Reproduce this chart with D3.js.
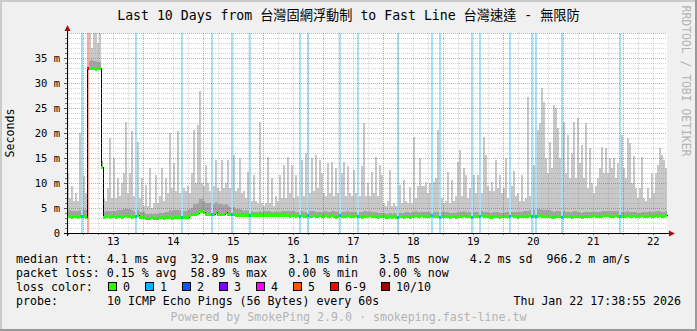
<!DOCTYPE html>
<html>
<head>
<meta charset="utf-8">
<script src="https://cdn.jsdelivr.net/npm/d3@7"></script>
<style>
  body { margin: 0; background: #f0f0f0; }
  svg text { font-family: "DejaVu Sans Mono", "Noto Sans CJK TC", monospace; white-space: pre; }
</style>
</head>
<body>
<svg width="697" height="331"></svg>
<script>
// ---- data ----
const title = "Last 10 Days from 台灣固網浮動制 to Fast Line 台灣速達 - 無限防";
const startTime = Date.UTC(2026, 0, 12, 17, 38, 55);
const endTime = Date.UTC(2026, 0, 22, 17, 38, 55);
const bucketMinutes = 48; // one bucket = 2 px

// max ping of each bucket (ms)
const smokeMax = [
  12, 7, 9.5, 6.5, 8, 6.5, 20, 7, 11.5, 8,
  42, 42, 37, 42, 42, 38, 42, 8, 7, 6.5,
  9, 19, 7, 15, 7, 11, 7.5, 10, 12, 22.3,
  8, 12, 20.5, 7.5, 14, 18.3, 7, 11, 5.5, 9.7,
  5.5, 13, 5, 6, 11.7, 6, 7.5, 13, 6.5, 11,
  8, 20, 9, 14, 8.5, 20.5, 8, 10, 9, 8.5,
  9.5, 8, 12, 20.7, 10, 21.7, 28.5, 10, 9.5, 13.7,
  10, 8.5, 12, 9.5, 14.7, 9, 8.5, 14.7, 9, 10,
  14.7, 9, 9.5, 15.7, 8.5, 9, 15, 8, 8.5, 7,
  12.3, 7, 6.5, 11.7, 6.5, 6, 22.3, 6, 5.5, 6,
  15.3, 6, 11, 5.5, 7.5, 6.5, 11.7, 7, 13.7, 7,
  15.3, 8, 13.7, 7, 11.7, 7.5, 7, 14.7, 7.5, 16,
  15.3, 8, 15, 8.5, 15.7, 9, 14.7, 12, 8, 7.5,
  14, 8, 14.3, 7.5, 13, 8, 8.5, 12, 14.3, 7.5,
  13.5, 8, 7.5, 12.7, 8, 14, 7.5, 13.5, 22.1, 7.5,
  10, 7.5, 12.3, 8, 15.3, 7.5, 13.7, 11.7, 6, 5.5,
  6.5, 12.7, 5.5, 6, 5.5, 5.5, 9.7, 6, 10.7, 6.5,
  6, 9.3, 6, 19.3, 7, 9.5, 15, 9.5, 9.5, 10.3,
  8, 10, 7, 10.3, 11, 20.7, 7.5, 7, 6, 6.5,
  12.3, 6, 10.7, 6.5, 7.5, 14.3, 16.7, 7.5, 13, 11.7,
  7, 9, 7, 11.7, 8, 11.7, 7, 8, 19.3, 15.7,
  9.5, 8.5, 10.3, 8.5, 14.7, 9, 11.7, 8, 9, 15,
  7, 10.3, 9.5, 12.5, 7.5, 8, 6.5, 11.7, 6.5, 7,
  27.3, 7.5, 9, 13.7, 10, 20.7, 22, 29, 26.3, 15,
  12, 18.3, 13, 25.7, 25, 21, 15, 11, 22.3, 12,
  19.7, 11, 16, 22.3, 11, 23, 14, 17.7, 11, 22,
  9, 17, 10, 8, 9.5, 11, 13, 17.3, 12, 17,
  12, 15, 13, 15, 11, 14, 12, 19.6, 13, 11,
  19, 18, 10, 15.5, 9, 7, 9, 15.3, 7, 6.5,
  9, 7, 12, 8, 12, 13.6, 17, 15.6, 14.7, 13
];

// height of the darker inner smoke above the median, per 3 buckets (ms)
const smokeBand = [
  1.2, 1.1, 1.3, 1.4, 1.5, 1.2, 1.0, 1.1, 1.2, 1.4,
  1.4, 1.1, 1.0, 0.7, 0.7, 0.8, 1.0, 1.4, 1.4, 1.2,
  1.3, 2.0, 2.4, 2.2, 2.0, 2.0, 1.8, 1.5, 1.2, 1.0,
  0.8, 0.7, 0.8, 0.9, 0.8, 0.8, 0.9, 1.0, 0.8, 0.9,
  1.0, 0.9, 0.8, 0.9, 1.0, 0.8, 0.9, 0.8, 0.8, 1.0,
  0.9, 0.8, 0.7, 0.6, 0.6, 0.7, 0.8, 0.8, 0.9, 0.8,
  0.8, 0.8, 0.9, 0.8, 0.7, 0.8, 0.9, 0.8, 0.8, 0.9,
  0.8, 0.8, 0.7, 0.8, 0.8, 0.9, 1.0, 1.2, 1.4, 1.2,
  1.2, 1.0, 1.0, 0.9, 1.0, 0.8, 0.8, 0.8, 0.9, 1.0,
  1.0, 1.0, 0.8, 0.9, 0.8, 0.7, 0.8, 0.9, 1.0, 0.9
];

// median rtt of each bucket (ms)
const medianRtt = [
  3.4, 3.4, 3.3, 3.4, 3.4, 3.3, 3.4, 3.4, 3.4, 3.3,
  33.0, 33.0, 33.1, 33.0, 32.9, 33.0, 33.0, 13.3, 3.3, 3.4,
  3.4, 3.3, 3.4, 3.4, 3.3, 3.4, 3.4, 3.3, 3.4, 3.5,
  3.4, 3.4, 3.3, 3.4, 3.4, 3.5, 3.3, 3.3, 3.2, 3.1,
  3.1, 3.1, 3.2, 3.1, 3.1, 3.1, 3.2, 3.2, 3.1, 3.2,
  3.2, 3.2, 3.1, 3.2, 3.2, 3.2, 3.2, 3.3, 3.3, 3.3,
  3.3, 3.6, 3.8, 3.8, 3.9, 4.0, 4.4, 4.5, 4.1, 3.9,
  3.8, 3.9, 3.8, 3.9, 4.2, 3.9, 3.8, 3.9, 3.8, 4.1,
  3.9, 3.8, 3.9, 3.8, 3.7, 3.6, 3.6, 3.6, 3.5, 3.6,
  3.6, 3.5, 3.6, 3.6, 3.5, 3.6, 3.6, 3.5, 3.6, 3.6,
  3.5, 3.6, 3.5, 3.5, 3.6, 3.5, 3.5, 3.6, 3.5, 3.5,
  3.5, 3.4, 3.5, 3.5, 3.4, 3.5, 3.4, 3.5, 3.4, 3.4,
  3.5, 3.4, 3.4, 3.5, 3.4, 3.4, 3.5, 3.4, 3.4, 3.5,
  3.4, 3.4, 3.5, 3.4, 3.3, 3.4, 3.5, 3.4, 3.4, 3.4,
  3.5, 3.4, 3.4, 3.4, 3.5, 3.4, 3.4, 3.3, 3.4, 3.4,
  3.4, 3.5, 3.4, 3.4, 3.4, 3.3, 3.4, 3.4, 3.4, 3.3,
  3.3, 3.4, 3.3, 3.4, 3.3, 3.3, 3.4, 3.4, 3.3, 3.4,
  3.4, 3.3, 3.4, 3.4, 3.5, 3.4, 3.4, 3.5, 3.4, 3.4,
  3.4, 3.4, 3.5, 3.4, 3.4, 3.4, 3.3, 3.4, 3.4, 3.4,
  3.4, 3.3, 3.4, 3.4, 3.3, 3.4, 3.4, 3.4, 3.5, 3.4,
  3.4, 3.4, 3.3, 3.4, 3.4, 3.4, 3.4, 3.5, 3.4, 3.4,
  3.4, 3.3, 3.3, 3.4, 3.4, 3.4, 3.3, 3.4, 3.4, 3.4,
  3.4, 3.4, 3.5, 3.4, 3.4, 3.3, 3.4, 3.4, 3.4, 3.4,
  3.4, 3.5, 3.4, 3.4, 3.4, 3.4, 3.5, 3.4, 3.4, 3.4,
  3.4, 3.4, 3.3, 3.3, 3.4, 3.4, 3.4, 3.3, 3.4, 3.4,
  3.4, 3.4, 3.3, 3.4, 3.4, 3.4, 3.4, 3.3, 3.4, 3.4,
  3.4, 3.4, 3.4, 3.5, 3.4, 3.4, 3.4, 3.4, 3.5, 3.5,
  3.5, 3.4, 3.4, 3.4, 3.5, 3.4, 3.4, 3.4, 3.4, 3.4,
  3.5, 3.4, 3.4, 3.5, 3.4, 3.4, 3.4, 3.5, 3.4, 3.4,
  3.4, 3.5, 3.4, 3.4, 3.5, 3.4, 3.5, 3.4, 3.4, 3.5
];

// buckets with packet loss: [bucket, pings lost of 10]
const lossBuckets = [
  [7, 1], [10, 6], [34, 1], [57, 1], [72, 1], [82, 1], [91, 1], [116, 1],
  [120, 1], [136, 1], [145, 1], [165, 1], [182, 1], [186, 1], [202, 1],
  [206, 1], [221, 1], [232, 1], [234, 1], [247, 1], [276, 1]
];

const lossLabels = ["0", "1", "2", "3", "4", "5", "6-9", "10/10"];
const lossColors = ["#26ff00", "#00b8ff", "#0059ff", "#7e00ff", "#ff00ff", "#ff5500", "#ff0000", "#a10000"];
const lossBgColors = ["none", "#a6e1f8", "#a6c4ff", "#cfa6ff", "#ffa6ff", "#ffc4a6", "#ffa4a4", "#d9a6a6"];

const yTicks = [0, 5, 10, 15, 20, 25, 30, 35];

const legendRows = [
  "median rtt:  4.1 ms avg  32.9 ms max   3.1 ms min   3.5 ms now   4.2 ms sd  966.2 m am/s",
  "packet loss: 0.15 % avg  58.89 % max   0.00 % min   0.00 % now"
];
const probeText = "10 ICMP Echo Pings (56 Bytes) every 60s";
const dateText = "Thu Jan 22 17:38:55 2026";
const footer = "Powered by SmokePing 2.9.0 · smokeping.fast-line.tw";
const watermark = "RRDTOOL / TOBI OETIKER";

// ---- drawing ----
const svg = d3.select("svg");
const width = +svg.attr("width");
const height = +svg.attr("height");

const plot = { left: 67, right: 667, top: 33, bottom: 233 };

const x = d3.scaleUtc()
  .domain([new Date(startTime), new Date(endTime)])
  .range([plot.left, plot.right]);
const y = d3.scaleLinear()
  .domain([0, 40])
  .range([plot.bottom, plot.top])
  .clamp(true);

const bucketStart = i => new Date(startTime + i * bucketMinutes * 60000);
const bx = i => Math.round(x(bucketStart(i)));
const bw = i => bx(i + 1) - bx(i);
const lossClass = n => n >= 10 ? 7 : n >= 6 ? 6 : n;

// background + 3d border
svg.append("rect").attr("width", width).attr("height", height).attr("fill", "#f0f0f0");
svg.append("path").attr("d", `M1,${height} V1 H${width}`).attr("fill", "none")
  .attr("stroke", "#cbcbcb").attr("stroke-width", 2);
svg.append("path").attr("d", `M0,${height - 1} H${width - 1} V0`).attr("fill", "none")
  .attr("stroke", "#999999").attr("stroke-width", 2);

// canvas
svg.append("rect")
  .attr("x", plot.left).attr("y", plot.top)
  .attr("width", plot.right - plot.left).attr("height", plot.bottom - plot.top)
  .attr("fill", "#ffffff");

const g = svg.append("g").attr("shape-rendering", "crispEdges");

// light smoke: median up to the max ping
g.selectAll("rect.smoke")
  .data(smokeMax)
  .join("rect")
  .attr("class", "smoke")
  .attr("x", (d, i) => bx(i))
  .attr("width", (d, i) => bw(i))
  .attr("y", d => y(d))
  .attr("height", (d, i) => Math.max(0, y(medianRtt[i]) - y(d)))
  .attr("fill", "#c8c8c8");

// darker inner smoke
g.selectAll("rect.band")
  .data(medianRtt)
  .join("rect")
  .attr("class", "band")
  .attr("x", (d, i) => bx(i))
  .attr("width", (d, i) => bw(i))
  .attr("y", (d, i) => y(d + smokeBand[Math.floor(i / 3)]))
  .attr("height", (d, i) => y(d) - y(d + smokeBand[Math.floor(i / 3)]))
  .attr("fill", "#a4a4a4");

// loss background bars
g.selectAll("rect.loss")
  .data(lossBuckets)
  .join("rect")
  .attr("class", "loss")
  .attr("x", d => bx(d[0]))
  .attr("width", d => bw(d[0]))
  .attr("y", plot.top)
  .attr("height", plot.bottom - plot.top)
  .attr("fill", d => lossBgColors[lossClass(d[1])]);

// median: thin black step line, then loss-coloured segments
const stepLine = d3.line()
  .x((d, i) => bx(i) + 0.5)
  .y(d => Math.round(y(d)) + 0.5)
  .curve(d3.curveStepAfter);
g.append("path")
  .datum(medianRtt.concat([medianRtt[medianRtt.length - 1]]))
  .attr("d", stepLine)
  .attr("fill", "none")
  .attr("stroke", "#000")
  .attr("stroke-width", 1);

const lossMap = new Map(lossBuckets);
g.selectAll("rect.median")
  .data(medianRtt)
  .join("rect")
  .attr("class", "median")
  .attr("x", (d, i) => bx(i))
  .attr("width", (d, i) => bw(i))
  .attr("y", d => Math.round(y(d)) - 1)
  .attr("height", 3)
  .attr("fill", (d, i) => lossColors[lossClass(lossMap.get(i) || 0)]);

// grid (translucent, drawn over the graph like rrdtool does)
const grid = svg.append("g").attr("shape-rendering", "crispEdges")
  .attr("stroke-dasharray", "1,1").attr("stroke-width", 1);
const days = d3.utcDay.range(new Date(startTime), new Date(endTime));
const sixHours = d3.utcHour.every(6).range(new Date(startTime), new Date(endTime))
  .filter(d => d.getUTCHours() !== 0);
const yMinor = d3.range(1, 40).filter(v => v % 5 !== 0);
const yMajor = d3.range(5, 41, 5);
const minorColor = "rgba(135,135,135,0.37)";
const majorColor = "rgba(190,30,30,0.42)";

grid.selectAll("line.vminor").data(sixHours).join("line")
  .attr("x1", d => Math.round(x(d)) + 0.5).attr("x2", d => Math.round(x(d)) + 0.5)
  .attr("y1", plot.top).attr("y2", plot.bottom)
  .attr("stroke", minorColor);
grid.selectAll("line.hminor").data(yMinor).join("line")
  .attr("x1", plot.left).attr("x2", plot.right)
  .attr("y1", d => Math.round(y(d)) + 0.5).attr("y2", d => Math.round(y(d)) + 0.5)
  .attr("stroke", minorColor);
grid.selectAll("line.vmajor").data(days).join("line")
  .attr("x1", d => Math.round(x(d)) + 0.5).attr("x2", d => Math.round(x(d)) + 0.5)
  .attr("y1", plot.top).attr("y2", plot.bottom)
  .attr("stroke", majorColor);
grid.selectAll("line.hmajor").data(yMajor).join("line")
  .attr("x1", plot.left).attr("x2", plot.right)
  .attr("y1", d => Math.round(y(d)) + 0.5).attr("y2", d => Math.round(y(d)) + 0.5)
  .attr("stroke", majorColor);

// axes
const yAxis = d3.axisLeft(y)
  .tickValues(yTicks)
  .tickFormat(d => d === 0 ? "0" : `${d} m`)
  .tickSize(3)
  .tickPadding(4);
const yg = svg.append("g").attr("transform", `translate(${plot.left},0)`).call(yAxis);
yg.select(".domain").remove();
yg.selectAll("text").attr("font-size", 10.5).attr("fill", "#000")
  .style("font-family", "DejaVu Sans Mono");
yg.selectAll("line").attr("stroke", "#555");

const noons = days.map(d => d3.utcHour.offset(d, 12)).filter(d => d > x.domain()[0] && d < x.domain()[1]);
const xAxis = d3.axisBottom(x)
  .tickValues(noons)
  .tickFormat(d3.utcFormat("%d"))
  .tickSize(0)
  .tickPadding(5);
const xg = svg.append("g").attr("transform", `translate(0,${plot.bottom})`).call(xAxis);
xg.select(".domain").remove();
xg.selectAll("text").attr("font-size", 10.5).attr("fill", "#000")
  .style("font-family", "DejaVu Sans Mono");

// small axis ticks
svg.append("g").attr("shape-rendering", "crispEdges").selectAll("line")
  .data(days.concat(sixHours)).join("line")
  .attr("x1", d => Math.round(x(d)) + 0.5).attr("x2", d => Math.round(x(d)) + 0.5)
  .attr("y1", plot.bottom).attr("y2", plot.bottom + 2)
  .attr("stroke", "#777");
svg.append("g").attr("shape-rendering", "crispEdges").selectAll("line")
  .data(yMinor).join("line")
  .attr("x1", plot.left - 2).attr("x2", plot.left)
  .attr("y1", d => Math.round(y(d)) + 0.5).attr("y2", d => Math.round(y(d)) + 0.5)
  .attr("stroke", "#777");

// axis lines with arrows
svg.append("line").attr("x1", plot.left + 0.5).attr("x2", plot.left + 0.5)
  .attr("y1", plot.bottom + 3).attr("y2", 28).attr("stroke", "#000").attr("shape-rendering", "crispEdges");
svg.append("line").attr("x1", plot.left - 3).attr("x2", 670)
  .attr("y1", plot.bottom + 0.5).attr("y2", plot.bottom + 0.5).attr("stroke", "#000").attr("shape-rendering", "crispEdges");
svg.append("path").attr("d", `M${plot.left - 2.5},31 L${plot.left + 3.5},31 L${plot.left + 0.5},25 Z`).attr("fill", "#a01010");
svg.append("path").attr("d", `M669,${plot.bottom - 2.5} L669,${plot.bottom + 3.5} L675,${plot.bottom + 0.5} Z`).attr("fill", "#a01010");

// title
svg.append("text")
  .attr("x", width / 2).attr("y", 20)
  .attr("text-anchor", "middle")
  .attr("font-size", 13.2)
  .attr("fill", "#000")
  .text(title);

// y label
svg.append("text")
  .attr("transform", `translate(14,133) rotate(-90)`)
  .attr("text-anchor", "middle")
  .attr("font-size", 11.6)
  .attr("fill", "#000")
  .text("Seconds");

// watermark
svg.append("text")
  .attr("transform", `translate(682,81) rotate(90)`)
  .attr("text-anchor", "middle")
  .attr("font-size", 11.4)
  .attr("fill", "#b4b4b4")
  .text(watermark);

// legend
const legend = svg.append("g").attr("font-size", 11.6).attr("fill", "#000");
legendRows.forEach((row, k) => {
  legend.append("text").attr("x", 16).attr("y", 263 + k * 14).text(row);
});
legend.append("text").attr("x", 16).attr("y", 291).text("loss color:");
let lx = 108;
lossLabels.forEach((lab, k) => {
  legend.append("rect")
    .attr("x", lx + 0.5).attr("y", 282.5).attr("width", 8).attr("height", 8)
    .attr("fill", lossColors[k]).attr("stroke", "#000").attr("stroke-width", 1);
  legend.append("text").attr("x", lx + 15).attr("y", 291).text(lab);
  lx += 37 + 7 * (lab.length - 1);
});
legend.append("text").attr("x", 16).attr("y", 305).text("probe:");
legend.append("text").attr("x", 107).attr("y", 305).text(probeText);
legend.append("text").attr("x", 681).attr("y", 305).attr("text-anchor", "end").text(dateText);

svg.append("text")
  .attr("x", width / 2).attr("y", 321)
  .attr("text-anchor", "middle")
  .attr("font-size", 11.6)
  .attr("fill", "#b4b4b4")
  .text(footer);
</script>
</body>
</html>
